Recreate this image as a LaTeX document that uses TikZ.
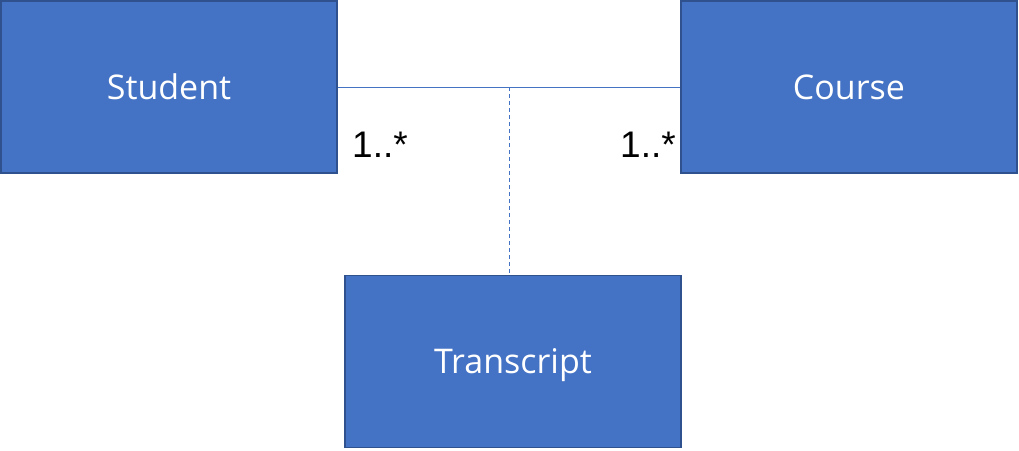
\documentclass[tikz,border=0pt]{standalone}
\usepackage{fontspec}
\setmainfont{Open Sans}
\newfontfamily\labelfont{Liberation Sans}
\usepackage{tikz}

\begin{document}
\begin{tikzpicture}[x=1pt,y=-1pt,
	classbox/.style={draw=boxborder, line width=1.2pt, fill=boxfill, text=white,
		minimum width=336pt, minimum height=172pt, inner sep=0pt,
		text height=32pt, text depth=8pt, font=\fontsize{34}{40}\selectfont},
	mult/.style={font=\labelfont\fontsize{37}{44}\selectfont, inner sep=0pt}]

	\definecolor{boxfill}{HTML}{4472C4}
	\definecolor{boxborder}{HTML}{2F528F}
	\useasboundingbox (0,0) rectangle (1019,450);

	\node[classbox] (student) at (169,87) {Student};
	\node[classbox] (course) at (849,87) {Course};
	\node[classbox] (transcript) at (513,361.5) {Transcript};

	\draw[boxfill, line width=1pt] (student.east) -- (course.west) coordinate[pos=0.5] (mid);
	\draw[boxfill, line width=1pt, dashed, dash pattern=on 4pt off 3pt] (mid) -- (mid |- transcript.north);

	\node[mult] (mstudent) at (380,145) {1..*};
	\node[mult] (mcourse) at (648,145) {1..*};
\end{tikzpicture}
\end{document}
